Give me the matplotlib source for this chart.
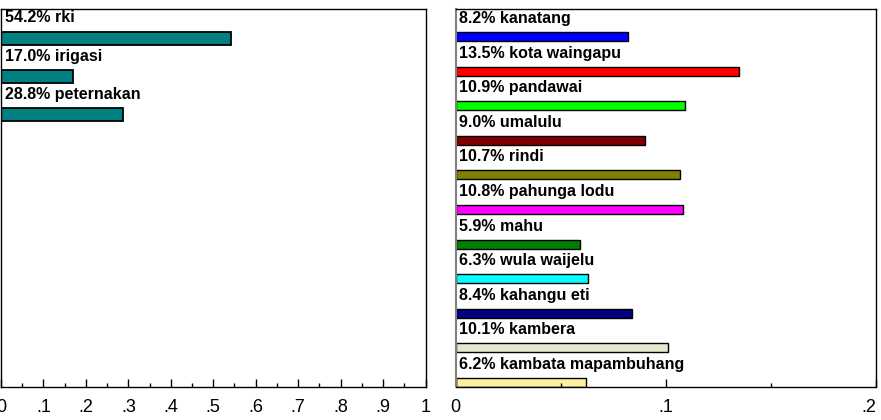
import matplotlib
matplotlib.use("Agg")
import matplotlib.pyplot as plt
from matplotlib.ticker import MultipleLocator

# left panel: usage shares
use_names = ["rki", "irigasi", "peternakan"]
use_vals = [0.542, 0.170, 0.288]
use_color = "#008080"

# right panel: districts
dist_names = ["kanatang", "kota waingapu", "pandawai", "umalulu", "rindi",
              "pahunga lodu", "mahu", "wula waijelu", "kahangu eti",
              "kambera", "kambata mapambuhang"]
dist_vals = [0.082, 0.135, 0.109, 0.090, 0.107, 0.108, 0.059, 0.063,
             0.084, 0.101, 0.062]
dist_colors = ["#0000ff", "#ff0000", "#00ff00", "#800000", "#808000",
               "#ff00ff", "#008000", "#00ffff", "#000080", "#e8e8d0",
               "#fff0a0"]

left_ticks = [0, .1, .2, .3, .4, .5, .6, .7, .8, .9, 1]
left_labels = ["0", ".1", ".2", ".3", ".4", ".5", ".6", ".7", ".8", ".9", "1"]
right_ticks = [0, .1, .2]
right_labels = ["0", ".1", ".2"]

plt.rcParams['font.family'] = ['Liberation Sans', 'DejaVu Sans']

W, H = 881, 420
fig = plt.figure(figsize=(W / 100, H / 100), dpi=100)

top, bot = 9, 386.5
ax1 = fig.add_axes([1 / W, 1 - bot / H, 424.5 / W, (bot - top) / H])
ax2 = fig.add_axes([455.5 / W, 1 - bot / H, 420.5 / W, (bot - top) / H])

label_font = dict(fontsize=11.5, fontweight="bold", color="black")

# left panel
y1 = list(range(len(use_names)))
ax1.barh(y1, use_vals, height=0.34, color=use_color, edgecolor="black",
         linewidth=1.3)
for y, v, n in zip(y1, use_vals, use_names):
    ax1.text(0.01, y - 0.42, "%.1f%% %s" % (v * 100, n), va="baseline",
             ha="left", **label_font)
ax1.set_ylim(9.1, -0.771)
ax1.set_xlim(0, 1)
ax1.set_xticks(left_ticks, labels=left_labels)
ax1.xaxis.set_minor_locator(MultipleLocator(0.05))

# right panel
y2 = list(range(len(dist_names)))
ax2.barh(y2, dist_vals, height=0.26, color=dist_colors, edgecolor="black",
         linewidth=1.0)
for y, v, n in zip(y2, dist_vals, dist_names):
    ax2.text(0.0015, y - 0.39, "%.1f%% %s" % (v * 100, n), va="baseline",
             ha="left", **label_font)
ax2.set_ylim(10.116, -0.795)
ax2.set_xlim(0, 0.2)
ax2.set_xticks(right_ticks, labels=right_labels)
ax2.xaxis.set_minor_locator(MultipleLocator(0.05))

for ax in (ax1, ax2):
    ax.set_yticks([])
    ax.tick_params(axis="x", which="major", direction="in", length=6,
                   width=1, pad=9, labelsize=13)
    ax.tick_params(axis="x", which="minor", direction="in", length=3,
                   width=1)
    for s in ax.spines.values():
        s.set_linewidth(1)
        s.set_color("black")

ax2.spines["left"].set_color("#808080")
ax2.spines["left"].set_linewidth(1.5)
ax2.get_xticklabels()[-1].set_horizontalalignment("right")

fig.savefig("out.png", dpi=100)
